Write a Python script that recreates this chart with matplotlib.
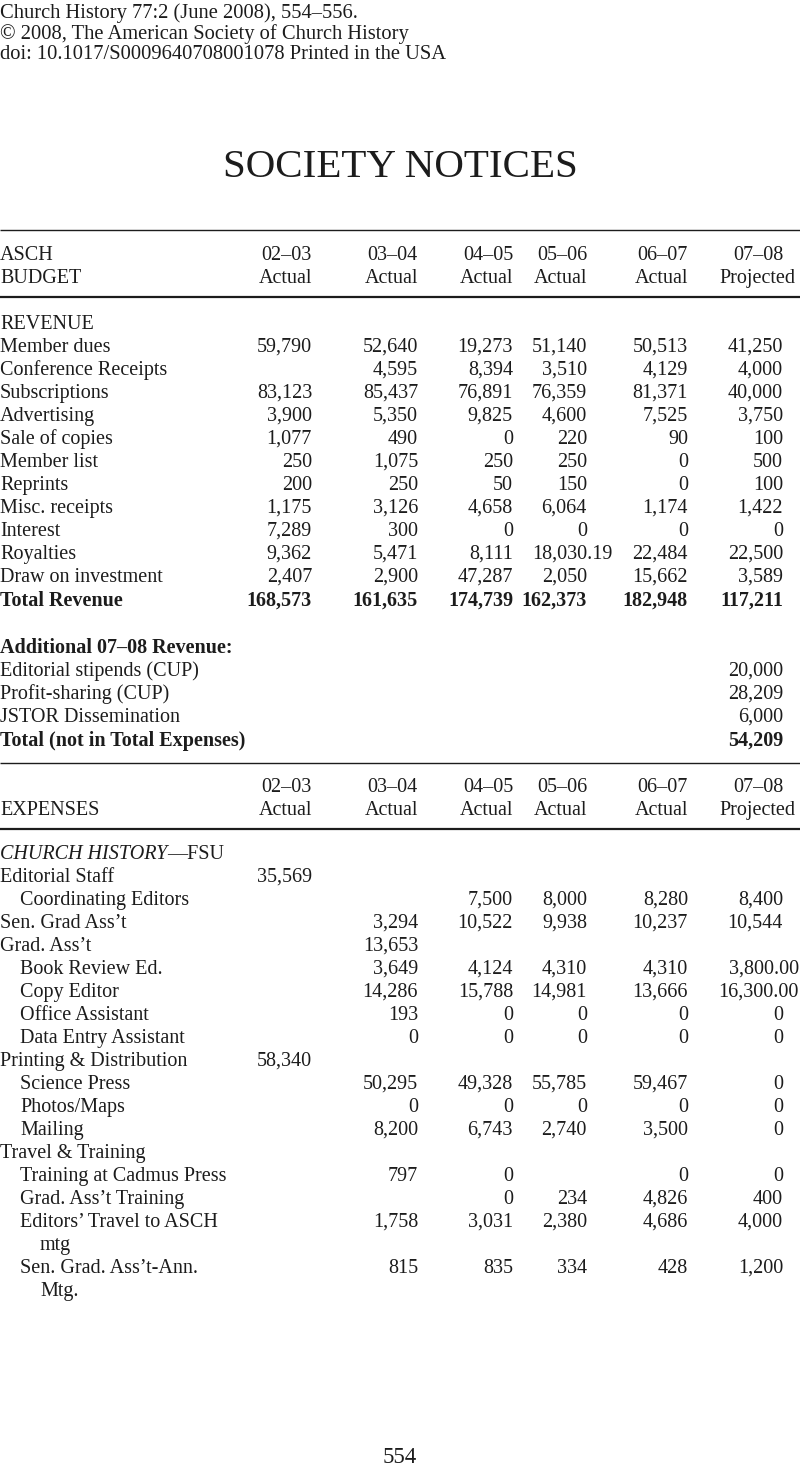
import matplotlib
matplotlib.use("Agg")
import matplotlib.pyplot as plt

plt.rcParams['font.family'] = ['Liberation Serif', 'DejaVu Serif']

# ---------------- data ----------------
years = ["02–03", "03–04", "04–05", "05–06", "06–07", "07–08"]
status = ["Actual", "Actual", "Actual", "Actual", "Actual", "Projected"]

revenue_items = ["Member dues", "Conference Receipts", "Subscriptions", "Advertising",
                 "Sale of copies", "Member list", "Reprints", "Misc. receipts",
                 "Interest", "Royalties", "Draw on investment"]
rev_0203 = [59790, None, 83123, 3900, 1077, 250, 200, 1175, 7289, 9362, 2407]
rev_0304 = [52640, 4595, 85437, 5350, 490, 1075, 250, 3126, 300, 5471, 2900]
rev_0405 = [19273, 8394, 76891, 9825, 0, 250, 50, 4658, 0, 8111, 47287]
rev_0506 = [51140, 3510, 76359, 4600, 220, 250, 150, 6064, 0, 18030.19, 2050]
rev_0607 = [50513, 4129, 81371, 7525, 90, 0, 0, 1174, 0, 22484, 15662]
rev_0708 = [41250, 4000, 40000, 3750, 100, 500, 100, 1422, 0, 22500, 3589]
total_revenue = [168573, 161635, 174739, 162373, 182948, 117211]

additional_items = ["Editorial stipends (CUP)", "Profit-sharing (CUP)", "JSTOR Dissemination"]
additional_values = [20000, 28209, 6000]
additional_total = 54209

expense_items = ["Editorial Staff", "Coordinating Editors", "Sen. Grad Ass’t", "Grad. Ass’t",
                 "Book Review Ed.", "Copy Editor", "Office Assistant", "Data Entry Assistant",
                 "Printing & Distribution", "Science Press", "Photos/Maps", "Mailing",
                 "Travel & Training", "Training at Cadmus Press", "Grad. Ass’t Training",
                 "Editors’ Travel to ASCH", "Sen. Grad. Ass’t-Ann."]
expense_wrap = [None] * 15 + ["mtg", "Mtg."]
expense_indent = [0, 1, 0, 0, 1, 1, 1, 1, 0, 1, 1, 1, 0, 1, 1, 1, 1]
exp_0203 = [35569, None, None, None, None, None, None, None, 58340, None, None, None,
            None, None, None, None, None]
exp_0304 = [None, None, 3294, 13653, 3649, 14286, 193, 0, None, 50295, 0, 8200,
            None, 797, None, 1758, 815]
exp_0405 = [None, 7500, 10522, None, 4124, 15788, 0, 0, None, 49328, 0, 6743,
            None, 0, 0, 3031, 835]
exp_0506 = [None, 8000, 9938, None, 4310, 14981, 0, 0, None, 55785, 0, 2740,
            None, None, 234, 2380, 334]
exp_0607 = [None, 8280, 10237, None, 4310, 13666, 0, 0, None, 59467, 0, 3500,
            None, 0, 4826, 4686, 428]
exp_0708 = [None, 8400, 10544, None, 3800.00, 16300.00, 0, 0, None, 0, 0, 0,
            None, 0, 400, 4000, 1200]

# ---------------- layout ----------------
W, H = 800, 1468
fig = plt.figure(figsize=(W / 100, H / 100), dpi=100)
ax = fig.add_axes([0, 0, 1, 1])
ax.set_xlim(0, W)
ax.set_ylim(H, 0)
ax.axis("off")

INK = "#1c1c1c"
FS = 14.5
HFS = 14.8
col_edges = [312, 418, 513, 587, 688, 783]
status_edges = [312, 418, 513, 587, 688, 795]
ROW = 23
INDENT = 20
DEC_W = 26  # approx. pixel width of ".00"


def fmt(v):
    if v is None:
        return None
    if isinstance(v, float):
        return f"{v:,.2f}"
    return f"{v:,}"


def label(x, y, s, bold=False, style="normal", size=FS):
    return ax.text(x, y, s, fontsize=size, color=INK, ha="left", va="baseline",
                   fontweight="bold" if bold else "normal", fontstyle=style)


def number(ci, y, v, bold=False):
    s = fmt(v)
    if s is None:
        return
    edge = col_edges[ci]
    w = "bold" if bold else "normal"
    if "." in s:
        x = min(edge + DEC_W, W - 1)
        ax.text(x, y, s, fontsize=FS, color=INK, ha="right", va="baseline", fontweight=w)
    else:
        ax.text(edge, y, s, fontsize=FS, color=INK, ha="right", va="baseline", fontweight=w)


def rule(y, lw):
    ax.plot([0, W], [y, y], color=INK, lw=lw, solid_capstyle="butt")


# page header
label(0, 18, "Church History 77:2 (June 2008), 554–556.", size=HFS)
label(0, 39, "© 2008, The American Society of Church History", size=HFS)
label(0, 59, "doi: 10.1017/S0009640708001078 Printed in the USA", size=HFS)
ax.text(400, 177, "SOCIETY NOTICES", fontsize=29.5, color=INK, ha="center", va="baseline")

# budget header
rule(230, 1.0)
label(0, 260, "ASCH")
label(0, 283, "BUDGET")
for i in range(6):
    ax.text(col_edges[i], 260, years[i], fontsize=FS, color=INK, ha="right", va="baseline")
    ax.text(status_edges[i], 283, status[i], fontsize=FS, color=INK, ha="right", va="baseline")
rule(297, 1.6)

# revenue
y = 329
label(0, y, "REVENUE")
rev_cols = [rev_0203, rev_0304, rev_0405, rev_0506, rev_0607, rev_0708]
for r, name in enumerate(revenue_items):
    y += ROW
    label(0, y, name)
    for ci in range(6):
        number(ci, y, rev_cols[ci][r])
y += ROW + 1
label(0, y, "Total Revenue", bold=True)
for ci in range(6):
    number(ci, y, total_revenue[ci], bold=True)

# additional revenue
y += 2 * ROW + 1
label(0, y, "Additional 07–08 Revenue:", bold=True)
for name, v in zip(additional_items, additional_values):
    y += ROW
    label(0, y, name)
    number(5, y, v)
y += ROW + 1
label(0, y, "Total (not in Total Expenses)", bold=True)
number(5, y, additional_total, bold=True)

# expenses header
rule(763, 1.0)
for i in range(6):
    ax.text(col_edges[i], 792, years[i], fontsize=FS, color=INK, ha="right", va="baseline")
    ax.text(status_edges[i], 815, status[i], fontsize=FS, color=INK, ha="right", va="baseline")
label(0, 815, "EXPENSES")
rule(829, 1.6)

# expenses
y = 859
t = label(0, y, "CHURCH HISTORY", style="italic")
ax.annotate("—FSU", xy=(1, 0), xycoords=t, fontsize=FS, color=INK, ha="left", va="bottom")
exp_cols = [exp_0203, exp_0304, exp_0405, exp_0506, exp_0607, exp_0708]
for r, name in enumerate(expense_items):
    y += ROW
    label(expense_indent[r] * INDENT, y, name)
    for ci in range(6):
        number(ci, y, exp_cols[ci][r])
    if expense_wrap[r]:
        y += ROW
        label((expense_indent[r] + 1) * INDENT, y, expense_wrap[r])

# page number
ax.text(400, 1463, "554", fontsize=16.5, color=INK, ha="center", va="baseline")

fig.savefig("out.png", dpi=100, facecolor="white")
